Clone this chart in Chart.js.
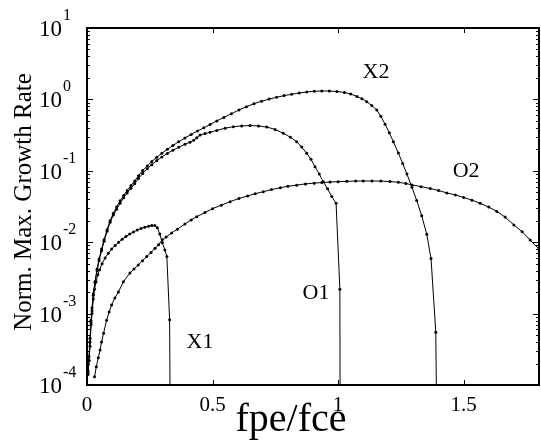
<!DOCTYPE html>
<html>
<head>
<meta charset="utf-8">
<script src="https://cdn.jsdelivr.net/npm/chart.js@4/dist/chart.umd.min.js"></script>
<style>
  html, body { margin: 0; padding: 0; background: #fff; }
  canvas { display: block; }
</style>
</head>
<body>
<canvas id="growth" width="541" height="442"></canvas>
<script>
// growth rate curves
const x2X = [0.004, 0.008, 0.012, 0.016, 0.020, 0.025, 0.032, 0.040, 0.048, 0.058, 0.068, 0.080, 0.092, 0.105, 0.118, 0.132, 0.146, 0.160, 0.175, 0.190, 0.205, 0.222, 0.240, 0.258, 0.278, 0.298, 0.320, 0.342, 0.365, 0.390, 0.415, 0.440, 0.465, 0.490, 0.517, 0.545, 0.575, 0.605, 0.635, 0.665, 0.695, 0.725, 0.755, 0.785, 0.815, 0.845, 0.875, 0.905, 0.935, 0.965, 0.995, 1.025, 1.050, 1.075, 1.095, 1.114, 1.134, 1.154, 1.170, 1.187, 1.204, 1.220, 1.240, 1.257, 1.274, 1.294, 1.313, 1.333, 1.353, 1.370, 1.389, 1.392];
const x2Y = [1.6e-4, 2.5e-4, 4.5e-4, 8e-4, 1.2e-3, 1.9e-3, 2.8e-3, 4.2e-3, 5.8e-3, 8.0e-3, 0.0108, 0.015, 0.020, 0.0255, 0.031, 0.038, 0.045, 0.053, 0.062, 0.072, 0.085, 0.101, 0.117, 0.135, 0.155, 0.176, 0.200, 0.226, 0.255, 0.288, 0.323, 0.360, 0.400, 0.445, 0.500, 0.560, 0.630, 0.710, 0.790, 0.870, 0.940, 1.01, 1.07, 1.13, 1.18, 1.23, 1.27, 1.30, 1.31, 1.31, 1.29, 1.25, 1.19, 1.10, 1.02, 0.93, 0.82, 0.71, 0.58, 0.45, 0.34, 0.256, 0.177, 0.127, 0.090, 0.059, 0.0385, 0.0234, 0.0129, 0.0059, 5.5e-4, 5e-5];

const o1X = [0.004, 0.008, 0.012, 0.016, 0.020, 0.025, 0.032, 0.040, 0.048, 0.058, 0.068, 0.080, 0.092, 0.105, 0.118, 0.132, 0.146, 0.160, 0.175, 0.190, 0.205, 0.222, 0.240, 0.258, 0.278, 0.298, 0.320, 0.342, 0.365, 0.390, 0.410, 0.425, 0.437, 0.450, 0.470, 0.490, 0.517, 0.550, 0.583, 0.616, 0.649, 0.683, 0.716, 0.749, 0.782, 0.810, 0.835, 0.855, 0.875, 0.892, 0.908, 0.925, 0.941, 0.958, 0.975, 0.992, 1.007, 1.008];
const o1Y = [1.4e-4, 2.2e-4, 4.0e-4, 7.5e-4, 1.1e-3, 1.8e-3, 2.7e-3, 4.0e-3, 5.5e-3, 7.6e-3, 0.0103, 0.0142, 0.019, 0.024, 0.029, 0.035, 0.042, 0.049, 0.057, 0.066, 0.078, 0.092, 0.107, 0.122, 0.139, 0.156, 0.175, 0.194, 0.214, 0.235, 0.252, 0.268, 0.290, 0.316, 0.332, 0.346, 0.368, 0.395, 0.415, 0.425, 0.430, 0.425, 0.410, 0.380, 0.335, 0.295, 0.256, 0.215, 0.176, 0.145, 0.114, 0.090, 0.070, 0.056, 0.0435, 0.035, 2.2e-3, 5e-5];

const x1X = [0.004, 0.008, 0.012, 0.016, 0.020, 0.025, 0.030, 0.036, 0.043, 0.050, 0.060, 0.072, 0.085, 0.098, 0.112, 0.126, 0.140, 0.155, 0.170, 0.185, 0.200, 0.215, 0.230, 0.245, 0.258, 0.270, 0.280, 0.290, 0.300, 0.310, 0.318, 0.329, 0.331];
const x1Y = [1.5e-4, 2.2e-4, 3.5e-4, 7e-4, 1.0e-3, 1.6e-3, 2.2e-3, 2.8e-3, 3.5e-3, 4.1e-3, 5.0e-3, 6.0e-3, 7.0e-3, 8.0e-3, 9.0e-3, 0.0100, 0.0110, 0.0120, 0.0130, 0.0139, 0.0148, 0.0156, 0.0162, 0.0167, 0.0172, 0.0171, 0.0160, 0.0130, 0.0098, 0.0078, 0.0063, 8.2e-4, 5e-5];

const o2X = [0.030, 0.037, 0.045, 0.052, 0.058, 0.066, 0.078, 0.088, 0.098, 0.111, 0.125, 0.145, 0.171, 0.187, 0.204, 0.221, 0.238, 0.255, 0.271, 0.285, 0.300, 0.315, 0.337, 0.360, 0.390, 0.415, 0.437, 0.470, 0.500, 0.535, 0.570, 0.605, 0.640, 0.670, 0.702, 0.735, 0.770, 0.800, 0.835, 0.870, 0.905, 0.935, 0.968, 1.000, 1.035, 1.070, 1.100, 1.135, 1.170, 1.207, 1.240, 1.270, 1.294, 1.330, 1.367, 1.400, 1.433, 1.467, 1.500, 1.533, 1.566, 1.600, 1.632, 1.665, 1.700, 1.733, 1.765, 1.800];
const o2Y = [1.3e-4, 1.8e-4, 2.4e-4, 3.1e-4, 4.0e-4, 5.3e-4, 8.1e-4, 1.05e-3, 1.32e-3, 1.65e-3, 2.0e-3, 2.8e-3, 3.7e-3, 4.2e-3, 4.8e-3, 5.5e-3, 6.3e-3, 7.2e-3, 8.2e-3, 9.2e-3, 0.0108, 0.0118, 0.0135, 0.0152, 0.0180, 0.0205, 0.0228, 0.0260, 0.0295, 0.0330, 0.0370, 0.0410, 0.0445, 0.0478, 0.051, 0.0545, 0.058, 0.0607, 0.063, 0.0655, 0.0672, 0.0685, 0.0695, 0.0705, 0.0712, 0.0718, 0.072, 0.072, 0.0717, 0.0708, 0.0690, 0.0665, 0.0635, 0.0600, 0.0565, 0.0530, 0.0490, 0.0458, 0.0424, 0.0388, 0.0350, 0.0310, 0.0270, 0.0225, 0.0174, 0.0140, 0.0107, 0.0080];

// axis ticks
const xTicks = [0, 0.5, 1, 1.5];
const xTickLabels = ['0', '0.5', '1', '1.5'];
const yExponents = [-4, -3, -2, -1, 0, 1];

// curve names and where they sit (data coords)
const curveNames = ['X2', 'O2', 'O1', 'X1'];
const curveNameX = [1.151, 1.51, 0.912, 0.45];
const curveNameY = [2.42, 0.099, 1.95e-3, 4.0e-4];

const serif = '"Liberation Serif", "Times New Roman", serif';

function pts(xs, ys) {
  return xs.map((x, i) => ({ x: x, y: ys[i] }));
}

function curve(label, xs, ys) {
  return {
    label: label,
    data: pts(xs, ys),
    showLine: true,
    borderColor: '#000',
    borderWidth: 1,
    backgroundColor: '#000',
    pointRadius: 1.5,
    pointBorderWidth: 0,
    pointHoverRadius: 0,
    tension: 0
  };
}

// frame, inward ticks, labels
const axesPlugin = {
  id: 'axesPlugin',
  afterDraw(chart) {
    const ctx = chart.ctx;
    const a = chart.chartArea;
    const xs = chart.scales.x;
    const ys = chart.scales.y;
    ctx.save();
    ctx.strokeStyle = '#000';
    ctx.fillStyle = '#000';

    // ticks
    ctx.lineWidth = 1;
    ctx.beginPath();
    xTicks.forEach(v => {
      const px = Math.round(xs.getPixelForValue(v)) + 0.5;
      ctx.moveTo(px, a.bottom); ctx.lineTo(px, a.bottom - 5);
      ctx.moveTo(px, a.top); ctx.lineTo(px, a.top + 5);
    });
    for (let e = -4; e <= 0; e++) {
      for (let m = 1; m <= 9; m++) {
        const py = Math.round(ys.getPixelForValue(m * Math.pow(10, e))) + 0.5;
        const len = m === 1 ? 6 : 3;
        ctx.moveTo(a.left, py); ctx.lineTo(a.left + len, py);
        ctx.moveTo(a.right, py); ctx.lineTo(a.right - len, py);
      }
    }
    ctx.stroke();

    // frame
    ctx.lineWidth = 2;
    ctx.strokeRect(a.left, a.top, a.right - a.left, a.bottom - a.top);

    // y tick labels 10^n
    yExponents.forEach(e => {
      const py = ys.getPixelForValue(Math.pow(10, e));
      ctx.font = '23px ' + serif;
      ctx.textAlign = 'right';
      ctx.textBaseline = 'alphabetic';
      ctx.fillText('10', 62, py + 8);
      ctx.font = '16px ' + serif;
      ctx.textAlign = 'left';
      ctx.fillText(String(e), 63, py - 8);
    });

    // x tick labels
    ctx.font = '21px ' + serif;
    ctx.textAlign = 'center';
    xTicks.forEach((v, i) => {
      ctx.fillText(xTickLabels[i], xs.getPixelForValue(v), 411);
    });

    // x title
    ctx.font = '40px ' + serif;
    ctx.fillText('fpe/fce', 291, 431);

    // y title
    ctx.save();
    ctx.translate(24, 202);
    ctx.rotate(-Math.PI / 2);
    ctx.font = '25px ' + serif;
    ctx.textBaseline = 'middle';
    ctx.fillText('Norm. Max. Growth Rate', 0, 0);
    ctx.restore();

    // curve names
    ctx.font = '22px ' + serif;
    ctx.textBaseline = 'middle';
    curveNames.forEach((n, i) => {
      ctx.fillText(n, xs.getPixelForValue(curveNameX[i]), ys.getPixelForValue(curveNameY[i]));
    });
    ctx.restore();
  }
};

new Chart(document.getElementById('growth'), {
  type: 'scatter',
  data: {
    datasets: [
      curve('X2', x2X, x2Y),
      curve('O1', o1X, o1Y),
      curve('X1', x1X, x1Y),
      curve('O2', o2X, o2Y)
    ]
  },
  options: {
    responsive: false,
    animation: false,
    events: [],
    layout: { padding: { left: 87, top: 28, right: 2, bottom: 57 } },
    plugins: {
      legend: { display: false },
      tooltip: { enabled: false }
    },
    scales: {
      x: { type: 'linear', min: 0, max: 1.8, display: false },
      y: { type: 'logarithmic', min: 1e-4, max: 10, display: false }
    }
  },
  plugins: [axesPlugin]
});
</script>
</body>
</html>
